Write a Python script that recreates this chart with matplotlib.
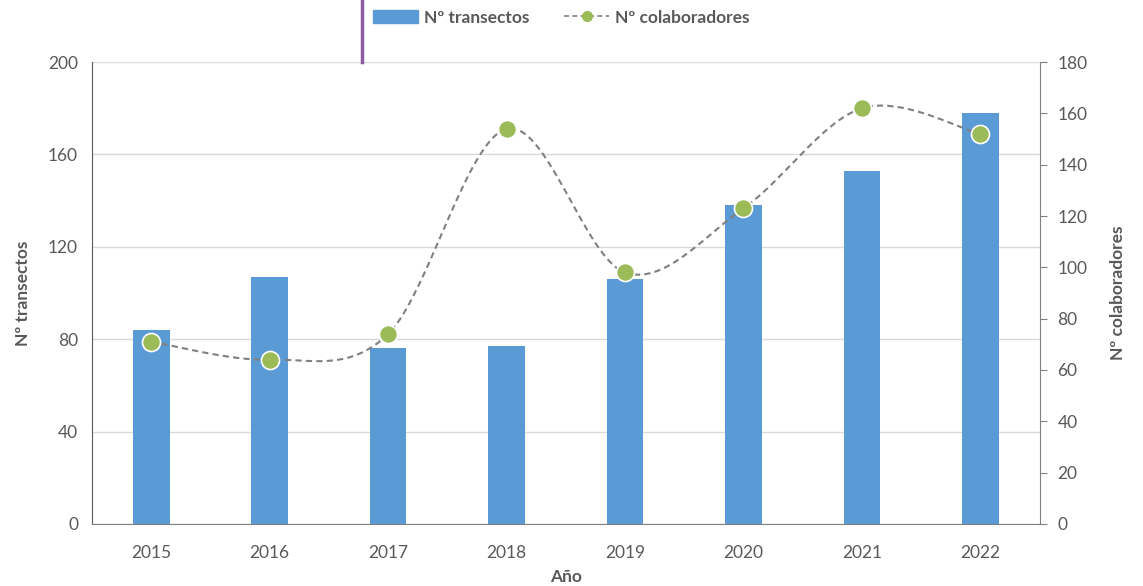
import numpy as np
import matplotlib
matplotlib.use("Agg")
import matplotlib.pyplot as plt
from matplotlib.lines import Line2D

plt.rcParams['font.family'] = ['Lato', 'DejaVu Sans']

years = ['2015', '2016', '2017', '2018', '2019', '2020', '2021', '2022']
transectos = [84, 107, 76, 77, 106, 138, 153, 178]
colaboradores = [71, 64, 74, 154, 98, 123, 162, 152]

BAR_COLOR = '#5B9BD5'
DOT_COLOR = '#9BBB59'
TXT = '#595959'


def smooth(xs, ys, n=40):
    # Excel-like smoothed line (Catmull-Rom style bezier)
    xs = np.asarray(xs, float)
    ys = np.asarray(ys, float)
    px, py = [], []
    m = len(xs)
    for i in range(m - 1):
        i0 = max(i - 1, 0)
        i3 = min(i + 2, m - 1)
        c1x = xs[i] + (xs[i + 1] - xs[i0]) / 6
        c1y = ys[i] + (ys[i + 1] - ys[i0]) / 6
        c2x = xs[i + 1] - (xs[i3] - xs[i]) / 6
        c2y = ys[i + 1] - (ys[i3] - ys[i]) / 6
        t = np.linspace(0, 1, n)
        bx = (1-t)**3*xs[i] + 3*(1-t)**2*t*c1x + 3*(1-t)*t**2*c2x + t**3*xs[i+1]
        by = (1-t)**3*ys[i] + 3*(1-t)**2*t*c1y + 3*(1-t)*t**2*c2y + t**3*ys[i+1]
        px.extend(bx)
        py.extend(by)
    return np.array(px), np.array(py)


fig = plt.figure(figsize=(11.43, 5.86), dpi=100)
ax = fig.add_axes([0.0805, 0.106, 0.829, 0.788])
x = np.arange(len(years))

ax.bar(x, transectos, width=0.31, color=BAR_COLOR, zorder=2, label='Nº transectos')
ax.set_xlim(-0.5, len(years) - 0.5)
ax.set_ylim(0, 200)
ax.set_yticks([0, 40, 80, 120, 160, 200])
ax.set_xticks(x)
ax.set_xticklabels(years)
ax.grid(axis='y', color='#D9D9D9', linewidth=1, zorder=0)
ax.tick_params(axis='y', length=0, labelsize=12.5, labelcolor=TXT, pad=10)
ax.tick_params(axis='x', length=0, labelsize=12.5, labelcolor=TXT, pad=15)
for s in ['top', 'right']:
    ax.spines[s].set_visible(False)
ax.spines['left'].set_color('#595959')
ax.spines['bottom'].set_color('#808080')
ax.set_ylabel('Nº transectos', fontsize=12.5, fontweight='bold', color=TXT, labelpad=12)
ax.set_xlabel('Año', fontsize=12.5, fontweight='bold', color=TXT, labelpad=6)

ax2 = ax.twinx()
ax2.set_ylim(0, 180)
ax2.set_yticks(range(0, 181, 20))
sx, sy = smooth(x, colaboradores)
ax2.plot(sx, sy, color='#808080', linestyle=(0, (3, 2)), linewidth=1.5, zorder=3)
ax2.plot(x, colaboradores, linestyle='none', marker='o', markersize=13,
         markerfacecolor=DOT_COLOR, markeredgecolor='white', markeredgewidth=1.2, zorder=4)
for s in ['top', 'left', 'bottom']:
    ax2.spines[s].set_visible(False)
ax2.spines['right'].set_color('#808080')
ax2.tick_params(axis='y', direction='out', length=5, color='#808080',
                labelsize=12.5, labelcolor=TXT, pad=8)
ax2.set_ylabel('Nº colaboradores', fontsize=12.5, fontweight='bold', color=TXT, labelpad=16)

handles = [
    plt.Rectangle((0, 0), 1, 1, color=BAR_COLOR),
    Line2D([], [], color='#808080', linestyle=(0, (3, 2)), linewidth=1.2, marker='o',
           markersize=7, markerfacecolor=DOT_COLOR, markeredgecolor=DOT_COLOR),
]
leg = fig.legend(handles, ['Nº transectos', 'Nº colaboradores'], ncol=2,
                 loc='center', bbox_to_anchor=(0.4912, 0.97), frameon=False,
                 prop={'size': 12.5, 'weight': 'bold'}, handlelength=2.6,
                 handleheight=0.8, columnspacing=2.0, handletextpad=0.35,
                 borderpad=0, borderaxespad=0)
for t in leg.get_texts():
    t.set_color(TXT)

fig.add_artist(Line2D([362 / 1143, 362 / 1143], [1.0, 1 - 62 / 586],
                      color='#8E5AA0', linewidth=2.5, transform=fig.transFigure))

fig.savefig('out.png', dpi=100)
